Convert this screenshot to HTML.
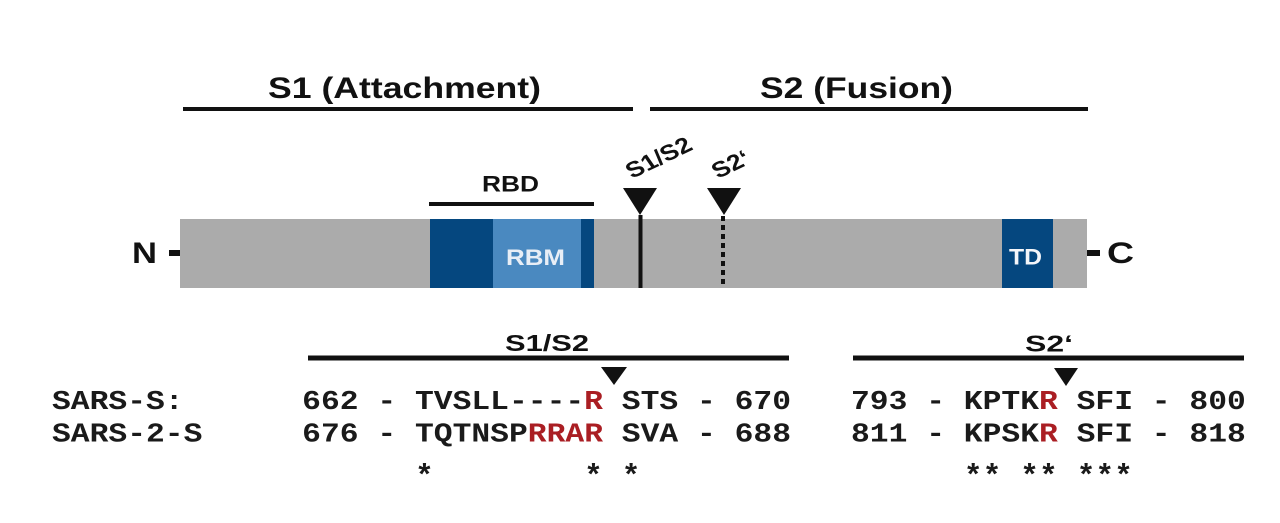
<!DOCTYPE html>
<html>
<head>
<meta charset="utf-8">
<style>
  html,body{margin:0;padding:0;background:#fff;}
  svg{display:block;}
  .s{font-family:"Liberation Sans",Arial,sans-serif;font-weight:bold;fill:#111;}
  .m{font-family:"Liberation Mono","DejaVu Sans Mono",monospace;font-weight:bold;fill:#1a1a1a;white-space:pre;}
  .r{fill:#aa1e23;}
</style>
</head>
<body>
<svg width="1280" height="523" viewBox="0 0 1280 523" xmlns="http://www.w3.org/2000/svg">
  <rect x="0" y="0" width="1280" height="523" fill="#fff"/>

  <!-- Top titles -->
  <text class="s" x="268" y="98" font-size="30" textLength="273" lengthAdjust="spacingAndGlyphs">S1 (Attachment)</text>
  <rect x="183" y="107" width="450" height="4" fill="#111"/>
  <text class="s" x="760" y="98" font-size="30" textLength="193" lengthAdjust="spacingAndGlyphs">S2 (Fusion)</text>
  <rect x="650" y="107" width="438" height="4" fill="#111"/>

  <!-- RBD -->
  <text class="s" x="482" y="191.5" font-size="22" textLength="57" lengthAdjust="spacingAndGlyphs">RBD</text>
  <rect x="429" y="202" width="165" height="4" fill="#111"/>

  <!-- rotated cleavage labels -->
  <g transform="translate(632,179) scale(1.2,1) rotate(-30)">
    <text class="s" x="0" y="0" font-size="22">S1/S2</text>
  </g>
  <g transform="translate(718,179) scale(1.2,1) rotate(-30)">
    <text class="s" x="0" y="0" font-size="22">S2‘</text>
  </g>

  <!-- triangles top -->
  <polygon points="623,188 657,188 640,215" fill="#111"/>
  <polygon points="707,188 741,188 724,215" fill="#111"/>

  <!-- bar -->
  <rect x="180" y="219" width="907" height="69" fill="#ababab"/>
  <rect x="430" y="219" width="63" height="69" fill="#05477f"/>
  <rect x="493" y="219" width="88" height="69" fill="#4a89c0"/>
  <rect x="581" y="219" width="13" height="69" fill="#05477f"/>
  <rect x="1002" y="219" width="51" height="69" fill="#05477f"/>
  <text class="s" x="506" y="265" font-size="22" textLength="59" lengthAdjust="spacingAndGlyphs" style="fill:#e8eef6">RBM</text>
  <text class="s" x="1009" y="264.5" font-size="22" textLength="33" lengthAdjust="spacingAndGlyphs" style="fill:#f4f6fa">TD</text>

  <!-- cleavage lines -->
  <rect x="638.5" y="215" width="4" height="73" fill="#111"/>
  <line x1="723" y1="216" x2="723" y2="288" stroke="#111" stroke-width="4" stroke-dasharray="5,4"/>

  <!-- N and C -->
  <text class="s" x="132" y="263" font-size="30" textLength="25" lengthAdjust="spacingAndGlyphs">N</text>
  <rect x="169" y="250" width="11" height="6" fill="#111"/>
  <rect x="1087" y="250" width="13" height="6" fill="#111"/>
  <text class="s" x="1107" y="263" font-size="30" textLength="27" lengthAdjust="spacingAndGlyphs">C</text>

  <!-- Lower section headers -->
  <text class="s" x="505" y="351" font-size="23" textLength="84" lengthAdjust="spacingAndGlyphs">S1/S2</text>
  <rect x="308" y="355.5" width="481" height="5" fill="#111"/>
  <polygon points="601,367 627,367 614,385" fill="#111"/>

  <text class="s" x="1025" y="351.5" font-size="23" textLength="48" lengthAdjust="spacingAndGlyphs">S2‘</text>
  <rect x="853" y="355.5" width="391" height="5" fill="#111"/>
  <polygon points="1054,368 1078,368 1066,386" fill="#111"/>

  <!-- Sequence labels -->
  <text class="m" x="52" y="409" font-size="27" textLength="131.6" lengthAdjust="spacingAndGlyphs">SARS-S:</text>
  <text class="m" x="52" y="441.5" font-size="27" textLength="150.4" lengthAdjust="spacingAndGlyphs">SARS-2-S</text>

  <!-- Left sequences -->
  <text class="m" x="302.2" y="409" font-size="27" textLength="282" lengthAdjust="spacingAndGlyphs" xml:space="preserve">662 - TVSLL----</text>
  <text class="m r" x="584.2" y="409" font-size="27" textLength="18.8" lengthAdjust="spacingAndGlyphs">R</text>
  <text class="m" x="621.8" y="409" font-size="27" textLength="169.2" lengthAdjust="spacingAndGlyphs" xml:space="preserve">STS - 670</text>

  <text class="m" x="302.2" y="441.5" font-size="27" textLength="225.6" lengthAdjust="spacingAndGlyphs" xml:space="preserve">676 - TQTNSP</text>
  <text class="m r" x="527.8" y="441.5" font-size="27" textLength="75.2" lengthAdjust="spacingAndGlyphs">RRAR</text>
  <text class="m" x="621.8" y="441.5" font-size="27" textLength="169.2" lengthAdjust="spacingAndGlyphs" xml:space="preserve">SVA - 688</text>

  <!-- Right sequences -->
  <text class="m" x="851" y="409" font-size="27" textLength="188" lengthAdjust="spacingAndGlyphs" xml:space="preserve">793 - KPTK</text>
  <text class="m r" x="1039" y="409" font-size="27" textLength="18.8" lengthAdjust="spacingAndGlyphs">R</text>
  <text class="m" x="1076.6" y="409" font-size="27" textLength="169.2" lengthAdjust="spacingAndGlyphs" xml:space="preserve">SFI - 800</text>

  <text class="m" x="851" y="441.5" font-size="27" textLength="188" lengthAdjust="spacingAndGlyphs" xml:space="preserve">811 - KPSK</text>
  <text class="m r" x="1039" y="441.5" font-size="27" textLength="18.8" lengthAdjust="spacingAndGlyphs">R</text>
  <text class="m" x="1076.6" y="441.5" font-size="27" textLength="169.2" lengthAdjust="spacingAndGlyphs" xml:space="preserve">SFI - 818</text>

  <!-- Asterisks -->
  <g class="m" font-size="31" text-anchor="middle">
    <text class="m" x="424.4" y="485">*</text>
    <text class="m" x="593.4" y="485">*</text>
    <text class="m" x="631" y="485">*</text>
    <text class="m" x="973.2" y="485">*</text>
    <text class="m" x="992" y="485">*</text>
    <text class="m" x="1029.6" y="485">*</text>
    <text class="m" x="1048.4" y="485">*</text>
    <text class="m" x="1086" y="485">*</text>
    <text class="m" x="1104.8" y="485">*</text>
    <text class="m" x="1123.6" y="485">*</text>
  </g>
</svg>
</body>
</html>
